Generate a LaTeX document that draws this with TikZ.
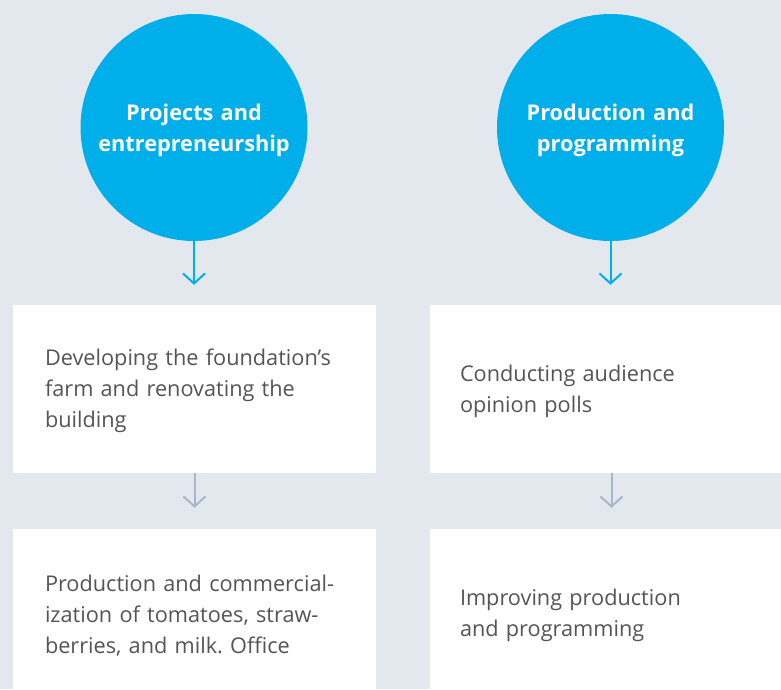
\documentclass[tikz,border=0pt]{standalone}
\usepackage{fontspec}
\setmainfont{Open Sans}
\usetikzlibrary{arrows.meta}
\definecolor{bgblue}{HTML}{E3E8EF}
\definecolor{topicblue}{HTML}{00AEEA}
\definecolor{stepgrey}{HTML}{A7B7C8}
\definecolor{textgrey}{HTML}{555555}
\frenchspacing

\begin{document}
\begin{tikzpicture}[x=1pt, y=-1pt,
	topic/.style={circle, fill=topicblue, minimum size=227pt, inner sep=0pt, text width=210pt, text height=22.5pt, text=white, align=center, font=\bfseries\fontsize{21.7}{31}\selectfont},
	taskbox/.style={rectangle, fill=white, minimum width=363pt, minimum height=168pt, inner sep=0pt, text width=299pt, text height=21pt, align=left, text=textgrey, font=\fontsize{21.7}{31}\selectfont},
	bluearrow/.style={draw=topicblue, line width=2pt, -{Straight Barb[length=10pt,width=22pt]}},
	greyarrow/.style={draw=stepgrey, line width=2pt, -{Straight Barb[length=10pt,width=22pt]}}]
			%%%%% START %%%%%
			
			\path[use as bounding box] (0, 0) rectangle (781, 689);
			\clip (0, 0) rectangle (781, 689);
			\fill[bgblue] (0, 0) rectangle (781, 689);
			
			\node[topic] (proj) at (194, 127.5) {Projects and\\entrepreneurship};
			\node[topic] (prod) at (610.5, 127.5) {Production and\\programming};
			
			\node[taskbox] (farm) at (194.5, 389) {Developing the foundation’s\\farm and renovating the\\building};
			\node[taskbox, text width=303pt] (polls) at (611.5, 389) {Conducting audience\\opinion polls};
			
			\node[taskbox] (crops) at (194.5, 613) {Production and commercial-\\ization of tomatoes, straw-\\berries, and milk. Office};
			\node[taskbox, text width=303pt] (improve) at (611.5, 613) {Improving production\\and programming};
			
			\draw[bluearrow, shorten >=20pt] (proj.south) -- (proj.south |- farm.north);
			\draw[bluearrow, shorten >=20pt] (prod.south) -- (prod.south |- polls.north);
			
			\draw[greyarrow, shorten >=21pt] (farm.south) -- (crops.north);
			\draw[greyarrow, shorten >=21pt] (polls.south) -- (improve.north);
			
			%%%%% END %%%%%
\end{tikzpicture}
\end{document}
